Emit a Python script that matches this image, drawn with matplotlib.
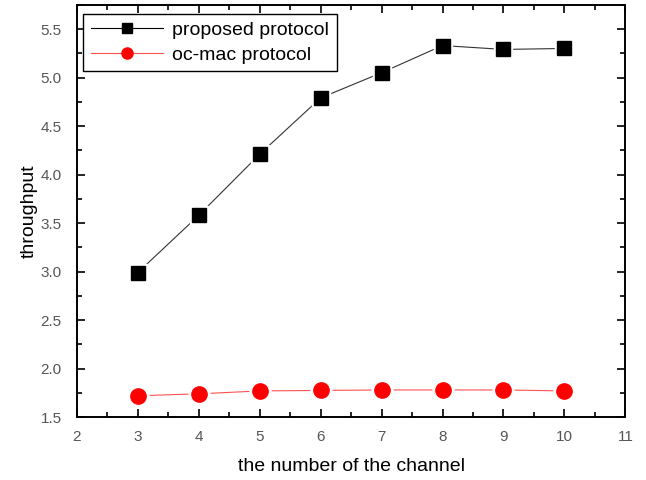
import matplotlib.pyplot as plt
from matplotlib.ticker import MultipleLocator

plt.rcParams['font.family'] = ['Liberation Sans', 'DejaVu Sans']

# données
canaux = [3, 4, 5, 6, 7, 8, 9, 10]
debit_propose = [2.99, 3.58, 4.21, 4.79, 5.05, 5.33, 5.29, 5.30]
debit_ocmac = [1.72, 1.74, 1.77, 1.775, 1.78, 1.78, 1.78, 1.77]

fig = plt.figure(figsize=(6.46, 4.8), dpi=100)
ax = fig.add_axes([0.119, 0.131, 0.849, 0.859])

# un marqueur blanc plus grand sous chaque point pour laisser un petit vide autour (style Origin)
ax.plot(canaux, debit_propose, color='#333333', lw=0.8, zorder=2)
ax.plot(canaux, debit_propose, ls='none', marker='s', ms=13, color='white', zorder=3)
ax.plot(canaux, debit_propose, ls='none', marker='s', ms=9.5, color='black', zorder=4)

ax.plot(canaux, debit_ocmac, color='#ff5050', lw=0.8, zorder=2)
ax.plot(canaux, debit_ocmac, ls='none', marker='o', ms=15, color='white', zorder=3)
ax.plot(canaux, debit_ocmac, ls='none', marker='o', ms=11, color='red', zorder=4)

# entrées de légende
ax.plot([], [], color='black', lw=0.8, marker='s', ms=7, label='proposed protocol')
ax.plot([], [], color='#ff5050', lw=0.8, marker='o', ms=8, mfc='red', mec='red',
        label='oc-mac protocol')

ax.set_xlim(2, 11)
ax.set_ylim(1.5, 5.75)
ax.xaxis.set_major_locator(MultipleLocator(1))
ax.xaxis.set_minor_locator(MultipleLocator(0.5))
ax.yaxis.set_major_locator(MultipleLocator(0.5))
ax.yaxis.set_minor_locator(MultipleLocator(0.25))
ax.tick_params(which='both', direction='in', top=True, right=True,
               labelsize=11, labelcolor='#555555', width=1.2)
ax.tick_params(which='major', length=6)
ax.tick_params(which='minor', length=3.5)
ax.tick_params(axis='x', pad=9)
ax.tick_params(axis='y', pad=11)
for s in ax.spines.values():
    s.set_linewidth(1.4)

ax.set_xlabel('the number of the channel', fontsize=14, labelpad=10)
ax.set_ylabel('throughput', fontsize=14, labelpad=2)

leg = ax.legend(loc='upper left', fontsize=14, fancybox=False, framealpha=1,
                edgecolor='black', handlelength=3.7, borderaxespad=0,
                labelspacing=0.35, handletextpad=0.5, borderpad=0.4,
                bbox_to_anchor=(0.011, 0.978))
leg.get_frame().set_linewidth(1.0)

fig.savefig('out.png', dpi=100)
